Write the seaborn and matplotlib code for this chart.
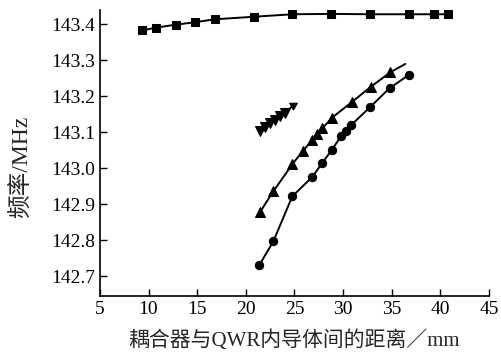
import numpy as np
import pandas as pd
import matplotlib
matplotlib.use("Agg")
import matplotlib.pyplot as plt
import seaborn as sns

# data
sq_x = [9.35, 10.8, 12.8, 14.8, 16.8, 20.8, 24.8, 28.8, 32.8, 36.8, 39.3, 40.8]
sq_y = [143.383, 143.391, 143.399, 143.406, 143.414, 143.421, 143.428,
        143.429, 143.428, 143.428, 143.428, 143.428]

ci_x = [21.39, 22.83, 24.78, 26.84, 27.84, 28.84, 29.79, 30.28, 30.79, 32.78, 34.8, 36.79]
ci_y = [142.731, 142.797, 142.922, 142.976, 143.014, 143.051, 143.089,
        143.104, 143.119, 143.170, 143.223, 143.260]

tr_x = [21.46, 22.83, 24.78, 25.85, 26.84, 27.36, 27.87, 28.84, 30.9, 32.88, 34.87, 36.41]
tr_y = [142.878, 142.936, 143.011, 143.048, 143.078, 143.094, 143.111,
        143.140, 143.184, 143.227, 143.267, 143.290]

td_x = [21.51, 21.97, 22.49, 23.0, 23.52, 23.98, 24.9]
td_y = [143.105, 143.116, 143.126, 143.135, 143.145, 143.153, 143.175]

x_ticks = [5, 10, 15, 20, 25, 30, 35, 40, 45]
y_ticks = [142.7, 142.8, 142.9, 143.0, 143.1, 143.2, 143.3, 143.4]
x_label = "耦合器与QWR内导体间的距离／mm"
y_label = "频率/MHz"

sns.set_style("ticks")
plt.rcParams['font.family'] = ['Liberation Serif', 'Noto Sans CJK SC']

fig = plt.figure(figsize=(5.02, 3.55), dpi=100)
ax = fig.add_axes([0.199, 0.166, 0.775, 0.806])

lw = 1.4
sns.lineplot(x=sq_x, y=sq_y, ax=ax, color='k', lw=lw, marker='s', ms=5.5,
             mec='k', mfc='k', sort=False)
sns.lineplot(x=ci_x, y=ci_y, ax=ax, color='k', lw=lw, marker='o', ms=6,
             mec='k', mfc='k', sort=False)
sns.lineplot(x=tr_x, y=tr_y, ax=ax, color='k', lw=lw, marker='^', ms=6.5,
             mec='k', mfc='k', sort=False, markevery=list(range(len(tr_x) - 1)))
sns.lineplot(x=td_x[:-1], y=td_y[:-1], ax=ax, color='k', lw=lw, marker='v', ms=6.5,
             mec='k', mfc='k', sort=False)
sns.lineplot(x=td_x[-2:], y=td_y[-2:], ax=ax, color='k', lw=lw, sort=False,
             marker=(3, 0, -60), ms=6.5, mec='k', mfc='k', markevery=[1])

ax.set_xlim(5, 45)
ax.set_ylim(142.645, 143.44)
ax.set_xticks(x_ticks)
ax.set_yticks(y_ticks)
ax.set_xticklabels([str(v) for v in x_ticks])
ax.set_yticklabels([f"{v:.1f}" for v in y_ticks])
ax.tick_params(direction='in', length=5, width=1, labelsize=14, colors='k')
for s in ['top', 'right']:
    ax.spines[s].set_visible(False)
for s in ['left', 'bottom']:
    ax.spines[s].set_linewidth(1.2)
    ax.spines[s].set_color('k')

ax.set_xlabel(x_label, fontsize=15, labelpad=9)
ax.set_ylabel(y_label, fontsize=17)
ax.yaxis.set_label_coords(-0.175, 0.45)

fig.savefig("out.png", dpi=100)
